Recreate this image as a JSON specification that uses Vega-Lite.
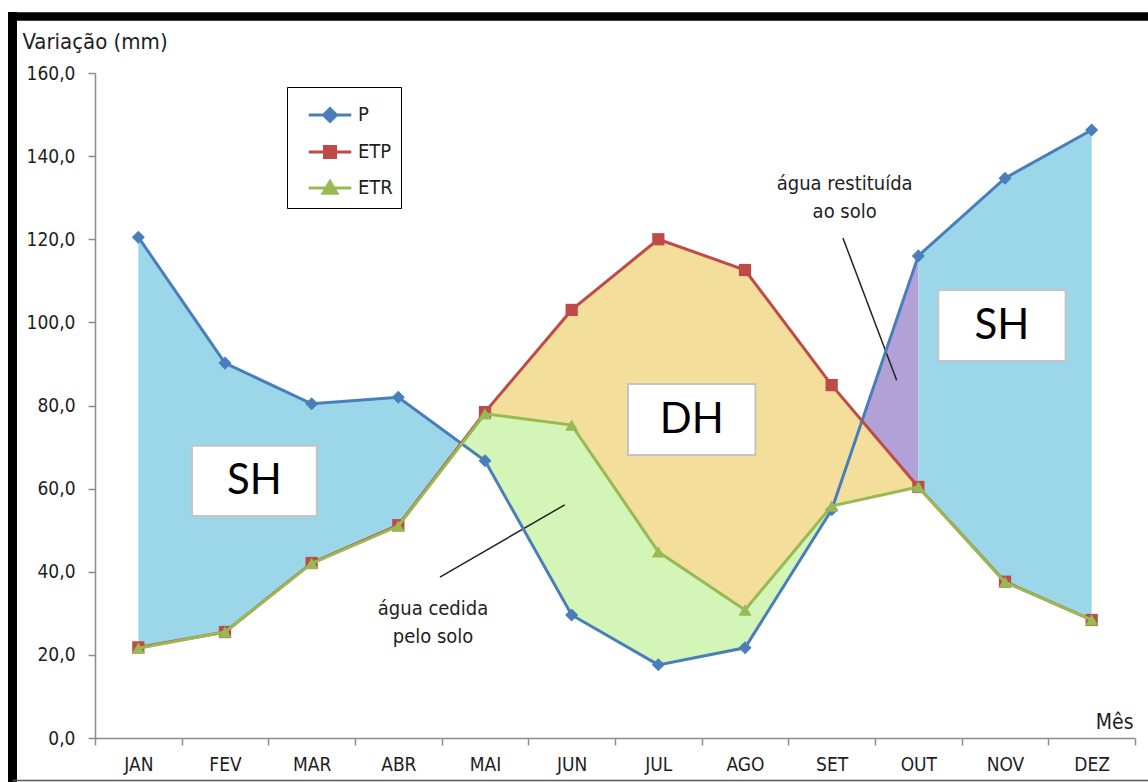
{
  "$schema": "https://vega.github.io/schema/vega-lite/v6.json",
  "width": 1040,
  "height": 665,
  "autosize": {"type": "none"},
  "padding": {"left": 95, "top": 73, "right": 13, "bottom": 44},
  "background": "white",
  "config": {
    "view": {"stroke": null},
    "font": "DejaVu Sans Condensed, DejaVu Sans, sans-serif",
    "axis": {
      "grid": false,
      "domainColor": "#8c8c8c",
      "domainWidth": 1.5,
      "tickColor": "#8c8c8c",
      "tickWidth": 1.5,
      "labelColor": "#1e1e1e",
      "labelFontSize": 19,
      "titleColor": "#1e1e1e",
      "titleFontWeight": "normal",
      "labelFont": "DejaVu Sans Condensed, DejaVu Sans, sans-serif",
      "titleFont": "DejaVu Sans Condensed, DejaVu Sans, sans-serif"
    }
  },
  "datasets": {
    "series": [
      {"mes": 1, "serie": "P", "valor": 120.5},
      {"mes": 2, "serie": "P", "valor": 90.2},
      {"mes": 3, "serie": "P", "valor": 80.4},
      {"mes": 4, "serie": "P", "valor": 82.0},
      {"mes": 5, "serie": "P", "valor": 66.7},
      {"mes": 6, "serie": "P", "valor": 29.6},
      {"mes": 7, "serie": "P", "valor": 17.6},
      {"mes": 8, "serie": "P", "valor": 21.7},
      {"mes": 9, "serie": "P", "valor": 54.9},
      {"mes": 10, "serie": "P", "valor": 116.0},
      {"mes": 11, "serie": "P", "valor": 134.7},
      {"mes": 12, "serie": "P", "valor": 146.3},
      {"mes": 1, "serie": "ETP", "valor": 21.8},
      {"mes": 2, "serie": "ETP", "valor": 25.5},
      {"mes": 3, "serie": "ETP", "valor": 42.1},
      {"mes": 4, "serie": "ETP", "valor": 51.2},
      {"mes": 5, "serie": "ETP", "valor": 78.4},
      {"mes": 6, "serie": "ETP", "valor": 103.0},
      {"mes": 7, "serie": "ETP", "valor": 120.0},
      {"mes": 8, "serie": "ETP", "valor": 112.6},
      {"mes": 9, "serie": "ETP", "valor": 84.9},
      {"mes": 10, "serie": "ETP", "valor": 60.4},
      {"mes": 11, "serie": "ETP", "valor": 37.6},
      {"mes": 12, "serie": "ETP", "valor": 28.4},
      {"mes": 1, "serie": "ETR", "valor": 21.6},
      {"mes": 2, "serie": "ETR", "valor": 25.5},
      {"mes": 3, "serie": "ETR", "valor": 42.0},
      {"mes": 4, "serie": "ETR", "valor": 51.0},
      {"mes": 5, "serie": "ETR", "valor": 78.0},
      {"mes": 6, "serie": "ETR", "valor": 75.3},
      {"mes": 7, "serie": "ETR", "valor": 44.8},
      {"mes": 8, "serie": "ETR", "valor": 30.8},
      {"mes": 9, "serie": "ETR", "valor": 55.8},
      {"mes": 10, "serie": "ETR", "valor": 60.4},
      {"mes": 11, "serie": "ETR", "valor": 37.5},
      {"mes": 12, "serie": "ETR", "valor": 28.4}
    ],
    "regioes": [
      {"regiao": "SH1", "mes": 1, "topo": 120.5, "base": 21.8},
      {"regiao": "SH1", "mes": 2, "topo": 90.2, "base": 25.5},
      {"regiao": "SH1", "mes": 3, "topo": 80.4, "base": 42.1},
      {"regiao": "SH1", "mes": 4, "topo": 82.0, "base": 51.2},
      {"regiao": "SH1", "mes": 4.73, "topo": 70.8, "base": 70.8},
      {"regiao": "DH", "mes": 5, "topo": 78.4, "base": 78.0},
      {"regiao": "DH", "mes": 6, "topo": 103.0, "base": 75.3},
      {"regiao": "DH", "mes": 7, "topo": 120.0, "base": 44.8},
      {"regiao": "DH", "mes": 8, "topo": 112.6, "base": 30.8},
      {"regiao": "DH", "mes": 9, "topo": 84.9, "base": 55.8},
      {"regiao": "DH", "mes": 10, "topo": 60.4, "base": 60.4},
      {"regiao": "cedida", "mes": 4.73, "topo": 70.8, "base": 70.8},
      {"regiao": "cedida", "mes": 5, "topo": 78.0, "base": 66.7},
      {"regiao": "cedida", "mes": 6, "topo": 75.3, "base": 29.6},
      {"regiao": "cedida", "mes": 7, "topo": 44.8, "base": 17.6},
      {"regiao": "cedida", "mes": 8, "topo": 30.8, "base": 21.7},
      {"regiao": "cedida", "mes": 9, "topo": 55.8, "base": 54.9},
      {"regiao": "restituida", "mes": 9.35, "topo": 76.3, "base": 76.3},
      {"regiao": "restituida", "mes": 10, "topo": 116.0, "base": 60.4},
      {"regiao": "SH2", "mes": 10, "topo": 116.0, "base": 60.4},
      {"regiao": "SH2", "mes": 11, "topo": 134.7, "base": 37.6},
      {"regiao": "SH2", "mes": 12, "topo": 146.3, "base": 28.4}
    ]
  },
  "resolve": {"axis": {"x": "independent", "y": "independent"}},
  "layer": [
    {
      "data": {"name": "regioes"},
      "transform": [{"filter": {"field": "regiao", "equal": "SH1"}}],
      "mark": {"type": "area", "color": "#9bd7e8", "opacity": 1},
      "encoding": {
        "x": {
          "field": "mes", "type": "quantitative",
          "scale": {"domain": [0.5, 12.5], "nice": false, "zero": false},
          "axis": {
            "orient": "bottom",
            "values": [0.5, 1.5, 2.5, 3.5, 4.5, 5.5, 6.5, 7.5, 8.5, 9.5, 10.5, 11.5, 12.5],
            "labels": false, "ticks": true, "tickSize": 7, "domain": true,
            "title": "Mês", "titleAngle": 0, "titleAlign": "right", "titleBaseline": "alphabetic",
            "titleX": 1038, "titleY": -10, "titleFontSize": 21
          }
        },
        "y": {
          "field": "topo", "type": "quantitative",
          "scale": {"domain": [0, 160], "nice": false, "zero": true},
          "axis": {
            "orient": "left",
            "values": [0, 20, 40, 60, 80, 100, 120, 140, 160],
            "labelExpr": "replace(format(datum.value, '.1f'), '.', ',')",
            "tickSize": 7, "labelPadding": 13,
            "title": "Variação (mm)", "titleAngle": 0, "titleAlign": "left", "titleBaseline": "alphabetic",
            "titleX": -73, "titleY": -25, "titleFontSize": 22
          }
        },
        "y2": {"field": "base"}
      }
    },
    {
      "data": {"name": "regioes"},
      "transform": [{"filter": {"field": "regiao", "equal": "DH"}}],
      "mark": {"type": "area", "color": "#f3df9b", "opacity": 1},
      "encoding": {
        "x": {"field": "mes", "type": "quantitative", "axis": null},
        "y": {"field": "topo", "type": "quantitative", "axis": null},
        "y2": {"field": "base"}
      }
    },
    {
      "data": {"name": "regioes"},
      "transform": [{"filter": {"field": "regiao", "equal": "cedida"}}],
      "mark": {"type": "area", "color": "#d3f5b8", "opacity": 1},
      "encoding": {
        "x": {"field": "mes", "type": "quantitative", "axis": null},
        "y": {"field": "topo", "type": "quantitative", "axis": null},
        "y2": {"field": "base"}
      }
    },
    {
      "data": {"name": "regioes"},
      "transform": [{"filter": {"field": "regiao", "equal": "restituida"}}],
      "mark": {"type": "area", "color": "#b2a1d6", "opacity": 1},
      "encoding": {
        "x": {"field": "mes", "type": "quantitative", "axis": null},
        "y": {"field": "topo", "type": "quantitative", "axis": null},
        "y2": {"field": "base"}
      }
    },
    {
      "data": {"name": "regioes"},
      "transform": [{"filter": {"field": "regiao", "equal": "SH2"}}],
      "mark": {"type": "area", "color": "#9bd7e8", "opacity": 1},
      "encoding": {
        "x": {"field": "mes", "type": "quantitative", "axis": null},
        "y": {"field": "topo", "type": "quantitative", "axis": null},
        "y2": {"field": "base"}
      }
    },
    {
      "data": {"values": [{}]},
      "mark": {"type": "rule", "color": "black", "strokeWidth": 8.5},
      "encoding": {
        "x": {"datum": -0.504, "type": "quantitative", "axis": null},
        "x2": {"datum": 12.8},
        "y": {"datum": 173.6, "type": "quantitative", "axis": null}
      }
    },
    {
      "data": {"values": [{}]},
      "mark": {"type": "rule", "color": "black", "strokeWidth": 9},
      "encoding": {
        "x": {"datum": -0.452, "type": "quantitative", "axis": null},
        "y": {"datum": 174.7, "type": "quantitative", "axis": null},
        "y2": {"datum": -12.5}
      }
    },
    {
      "data": {"values": [{}]},
      "mark": {"type": "rule", "color": "#555555", "strokeWidth": 1.5},
      "encoding": {
        "x": {"datum": -0.45, "type": "quantitative", "axis": null},
        "x2": {"datum": 12.8},
        "y": {"datum": -10.23, "type": "quantitative", "axis": null}
      }
    },
    {
      "data": {"values": [{}]},
      "mark": {"type": "rule", "color": "#222222", "strokeWidth": 1.5},
      "encoding": {
        "x": {"datum": 4.48, "type": "quantitative", "axis": null},
        "x2": {"datum": 5.92},
        "y": {"datum": 38.7, "type": "quantitative", "axis": null},
        "y2": {"datum": 56.1}
      }
    },
    {
      "data": {"values": [{}]},
      "mark": {"type": "rule", "color": "#222222", "strokeWidth": 1.5},
      "encoding": {
        "x": {"datum": 9.13, "type": "quantitative", "axis": null},
        "x2": {"datum": 9.75},
        "y": {"datum": 120.3, "type": "quantitative", "axis": null},
        "y2": {"datum": 86.1}
      }
    },
    {
      "data": {"values": [{}]},
      "mark": {"type": "rect", "fill": "white", "stroke": "#c4c4c4", "strokeWidth": 2},
      "encoding": {
        "x": {"datum": 1.62, "type": "quantitative", "axis": null},
        "x2": {"datum": 3.06},
        "y": {"datum": 70.3, "type": "quantitative", "axis": null},
        "y2": {"datum": 53.4}
      }
    },
    {
      "data": {"values": [{}]},
      "mark": {"type": "rect", "fill": "white", "stroke": "#c4c4c4", "strokeWidth": 2},
      "encoding": {
        "x": {"datum": 6.65, "type": "quantitative", "axis": null},
        "x2": {"datum": 8.12},
        "y": {"datum": 85.2, "type": "quantitative", "axis": null},
        "y2": {"datum": 68.1}
      }
    },
    {
      "data": {"values": [{}]},
      "mark": {"type": "rect", "fill": "white", "stroke": "#c4c4c4", "strokeWidth": 2},
      "encoding": {
        "x": {"datum": 10.23, "type": "quantitative", "axis": null},
        "x2": {"datum": 11.70},
        "y": {"datum": 107.8, "type": "quantitative", "axis": null},
        "y2": {"datum": 90.7}
      }
    },
    {
      "data": {"values": [{}]},
      "mark": {"type": "text", "text": "SH", "font": "Lato", "fontSize": 42, "color": "black", "align": "center", "baseline": "middle"},
      "encoding": {
        "x": {"datum": 2.34, "type": "quantitative", "axis": null},
        "y": {"datum": 61.8, "type": "quantitative", "axis": null}
      }
    },
    {
      "data": {"values": [{}]},
      "mark": {"type": "text", "text": "DH", "font": "Lato", "fontSize": 42, "color": "black", "align": "center", "baseline": "middle"},
      "encoding": {
        "x": {"datum": 7.385, "type": "quantitative", "axis": null},
        "y": {"datum": 76.6, "type": "quantitative", "axis": null}
      }
    },
    {
      "data": {"values": [{}]},
      "mark": {"type": "text", "text": "SH", "font": "Lato", "fontSize": 42, "color": "black", "align": "center", "baseline": "middle"},
      "encoding": {
        "x": {"datum": 10.965, "type": "quantitative", "axis": null},
        "y": {"datum": 99.2, "type": "quantitative", "axis": null}
      }
    },
    {
      "data": {"values": [{}]},
      "mark": {"type": "text", "text": ["água cedida", "pelo solo"], "fontSize": 20, "lineHeight": 28, "color": "#1e1e1e", "align": "center", "baseline": "alphabetic"},
      "encoding": {
        "x": {"datum": 4.4, "type": "quantitative", "axis": null},
        "y": {"datum": 29.6, "type": "quantitative", "axis": null}
      }
    },
    {
      "data": {"values": [{}]},
      "mark": {"type": "text", "text": ["água restituída", "ao solo"], "fontSize": 20, "lineHeight": 28, "color": "#1e1e1e", "align": "center", "baseline": "alphabetic"},
      "encoding": {
        "x": {"datum": 9.15, "type": "quantitative", "axis": null},
        "y": {"datum": 131.9, "type": "quantitative", "axis": null}
      }
    },
    {
      "data": {"name": "series"},
      "transform": [{"filter": {"field": "serie", "equal": "P"}}],
      "mark": {"type": "line", "color": "#4a7ebb", "strokeWidth": 3},
      "encoding": {
        "x": {
          "field": "mes", "type": "quantitative",
          "axis": {
            "orient": "bottom",
            "values": [1, 2, 3, 4, 5, 6, 7, 8, 9, 10, 11, 12],
            "labelExpr": "['JAN','FEV','MAR','ABR','MAI','JUN','JUL','AGO','SET','OUT','NOV','DEZ'][datum.value - 1]",
            "domain": false, "ticks": false, "labelPadding": 17, "title": null
          }
        },
        "y": {"field": "valor", "type": "quantitative", "axis": null}
      }
    },
    {
      "data": {"name": "series"},
      "transform": [{"filter": {"field": "serie", "equal": "P"}}],
      "mark": {"type": "point", "shape": "diamond", "filled": true, "size": 170, "color": "#4a7ebb", "opacity": 1},
      "encoding": {
        "x": {"field": "mes", "type": "quantitative", "axis": null},
        "y": {"field": "valor", "type": "quantitative", "axis": null}
      }
    },
    {
      "data": {"name": "series"},
      "transform": [{"filter": {"field": "serie", "equal": "ETP"}}],
      "mark": {"type": "line", "color": "#be4b48", "strokeWidth": 3},
      "encoding": {
        "x": {"field": "mes", "type": "quantitative", "axis": null},
        "y": {"field": "valor", "type": "quantitative", "axis": null}
      }
    },
    {
      "data": {"name": "series"},
      "transform": [{"filter": {"field": "serie", "equal": "ETP"}}],
      "mark": {"type": "point", "shape": "square", "filled": true, "size": 150, "color": "#be4b48", "opacity": 1},
      "encoding": {
        "x": {"field": "mes", "type": "quantitative", "axis": null},
        "y": {"field": "valor", "type": "quantitative", "axis": null}
      }
    },
    {
      "data": {"name": "series"},
      "transform": [{"filter": {"field": "serie", "equal": "ETR"}}],
      "mark": {"type": "line", "color": "#98b954", "strokeWidth": 3},
      "encoding": {
        "x": {"field": "mes", "type": "quantitative", "axis": null},
        "y": {"field": "valor", "type": "quantitative", "axis": null}
      }
    },
    {
      "data": {"name": "series"},
      "transform": [{"filter": {"field": "serie", "equal": "ETR"}}],
      "mark": {"type": "point", "shape": "triangle-up", "filled": true, "size": 170, "color": "#98b954", "opacity": 1},
      "encoding": {
        "x": {"field": "mes", "type": "quantitative", "axis": null},
        "y": {"field": "valor", "type": "quantitative", "axis": null}
      }
    },
    {
      "data": {"values": []},
      "mark": {"type": "point", "filled": true, "opacity": 1},
      "encoding": {
        "x": {"field": "mes", "type": "quantitative", "axis": null},
        "y": {"field": "valor", "type": "quantitative", "axis": null},
        "color": {
          "field": "serie", "type": "nominal",
          "scale": {"domain": ["P", "ETP", "ETR"], "range": ["#4a7ebb", "#be4b48", "#98b954"]},
          "legend": {
            "title": null, "orient": "none", "legendX": 192, "legendY": 14,
            "strokeColor": "#000000", "fillColor": "#ffffff", "padding": 8,
            "symbolSize": 1369, "symbolStrokeWidth": 3, "symbolOpacity": 1, "symbolOffset": 15,
            "labelFontSize": 20, "labelOffset": 8, "rowPadding": 4, "labelColor": "#1e1e1e",
            "encode": {"symbols": {"update": {"stroke": {"scale": "color", "field": "value"}, "fill": {"scale": "color", "field": "value"}, "strokeWidth": {"value": 3}}}}
          }
        },
        "shape": {
          "field": "serie", "type": "nominal",
          "scale": {"domain": ["P", "ETP", "ETR"], "range": ["M-1.15,0H1.15M0,-0.35L0.35,0L0,0.35L-0.35,0Z", "M-1.15,0H1.15M-0.3,-0.3H0.3V0.3H-0.3Z", "M-1.15,0H1.15M0,-0.35L0.37,0.28L-0.37,0.28Z"]},
          "legend": {
            "title": null, "orient": "none", "legendX": 192, "legendY": 14,
            "strokeColor": "#000000", "fillColor": "#ffffff", "padding": 8,
            "symbolSize": 1369, "symbolStrokeWidth": 3, "symbolOpacity": 1, "symbolOffset": 15,
            "labelFontSize": 20, "labelOffset": 8, "rowPadding": 4, "labelColor": "#1e1e1e",
            "encode": {"symbols": {"update": {"stroke": {"scale": "color", "field": "value"}, "fill": {"scale": "color", "field": "value"}, "strokeWidth": {"value": 3}}}}
          }
        }
      }
    }
  ]
}
